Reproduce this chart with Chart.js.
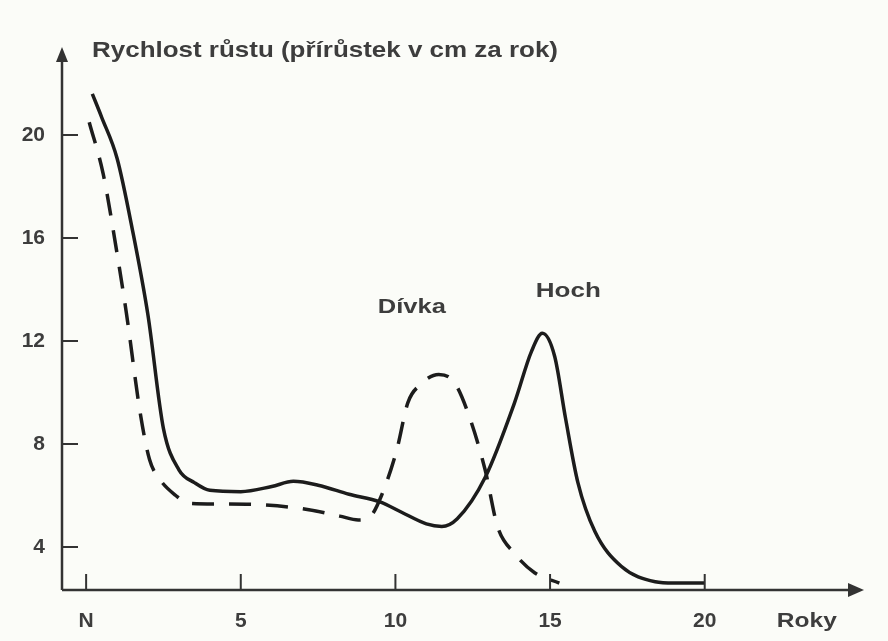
<!DOCTYPE html>
<html>
<head>
<meta charset="utf-8">
<script src="https://cdn.jsdelivr.net/npm/chart.js@4/dist/chart.umd.min.js"></script>
<style>
  html, body { margin: 0; padding: 0; background: #fbfcf8; }
  #wrap { width: 888px; height: 641px; }
</style>
</head>
<body>
<div id="wrap"><canvas id="growthChart"></canvas></div>
<script>
// growth velocity (cm / year)
const boyAges = [0.2, 0.5, 1.0, 1.5, 2.0, 2.5, 3.0, 3.5, 4.0, 5.0, 6.0, 6.7, 7.5, 8.5, 9.5, 10.2, 11.0, 11.5, 12.0, 12.9, 13.85, 14.4, 14.75, 15.15, 15.5, 15.9, 16.45, 17.3, 18.4, 19.0, 20.0];
const boyRate = [21.6, 20.7, 19.1, 16.3, 13.0, 8.6, 7.0, 6.5, 6.2, 6.15, 6.35, 6.55, 6.4, 6.05, 5.75, 5.35, 4.9, 4.8, 5.1, 6.7, 9.6, 11.6, 12.3, 11.4, 9.0, 6.5, 4.6, 3.25, 2.65, 2.6, 2.6];

const girlAges = [0.1, 0.55, 1.0, 1.3, 1.75, 2.05, 2.4, 2.9, 3.3, 4.3, 5.8, 7.2, 8.2, 8.8, 9.2, 9.55, 10.05, 10.4, 10.8, 11.4, 11.9, 12.35, 12.9, 13.3, 13.85, 14.5, 15.3];
const girlRate = [20.5, 18.5, 15.4, 13.1, 9.2, 7.4, 6.6, 6.0, 5.7, 5.67, 5.63, 5.45, 5.2, 5.05, 5.2, 6.0, 7.8, 9.6, 10.3, 10.7, 10.4, 9.2, 7.0, 4.8, 3.75, 3.0, 2.6];

const xTicks = [0, 5, 10, 15, 20];
const xTickLabels = ["N", "5", "10", "15", "20"];
const yTicks = [4, 8, 12, 16, 20];

const yTitle = "Rychlost růstu (přírůstek v cm za rok)";
const xTitle = "Roky";
const seriesNames = ["Hoch", "Dívka"];

const ink = "#1c1c1c";
const textColor = "#3d3d3d";
const fontFamily = '"Liberation Sans", Arial, sans-serif';

function toPoints(xs, ys) {
  return xs.map((x, i) => ({ x: x, y: ys[i] }));
}

// draws text squeezed/stretched to a given width (scanned lettering is wide)
function wideText(ctx, text, cx, cy, width, align) {
  const w = ctx.measureText(text).width;
  const k = width / w;
  ctx.save();
  ctx.translate(cx, cy);
  ctx.scale(k, 1);
  ctx.textAlign = align;
  ctx.fillText(text, 0, 0);
  ctx.restore();
}

const axesPlugin = {
  id: "axesPlugin",
  afterDraw(chart) {
    const ctx = chart.ctx;
    const area = chart.chartArea;
    const xs = chart.scales.x;
    const ys = chart.scales.y;
    ctx.save();

    // axis lines
    ctx.strokeStyle = "#333";
    ctx.fillStyle = "#333";
    ctx.lineWidth = 2.5;
    ctx.beginPath();
    ctx.moveTo(area.left, area.bottom);
    ctx.lineTo(area.left, area.top + 10);
    ctx.moveTo(area.left, area.bottom);
    ctx.lineTo(area.right - 10, area.bottom);
    ctx.stroke();

    // arrow heads
    ctx.beginPath();
    ctx.moveTo(area.left, area.top);
    ctx.lineTo(area.left - 6, area.top + 15);
    ctx.lineTo(area.left + 6, area.top + 15);
    ctx.closePath();
    ctx.fill();
    ctx.beginPath();
    ctx.moveTo(area.right, area.bottom);
    ctx.lineTo(area.right - 16, area.bottom - 7);
    ctx.lineTo(area.right - 16, area.bottom + 7);
    ctx.closePath();
    ctx.fill();

    // inward tick marks
    ctx.lineWidth = 2;
    ctx.beginPath();
    yTicks.forEach((v) => {
      const py = ys.getPixelForValue(v);
      ctx.moveTo(area.left, py);
      ctx.lineTo(area.left + 16, py);
    });
    xTicks.forEach((v) => {
      const px = xs.getPixelForValue(v);
      ctx.moveTo(px, area.bottom);
      ctx.lineTo(px, area.bottom - 16);
    });
    ctx.stroke();

    // texts
    ctx.fillStyle = textColor;
    ctx.textBaseline = "middle";
    ctx.font = "bold 22px " + fontFamily;
    wideText(ctx, yTitle, area.left + 30, area.top + 4, 466, "left");

    ctx.font = "bold 21px " + fontFamily;
    wideText(ctx, xTitle, xs.getPixelForValue(23.3), area.bottom + 31, 60, "center");
    wideText(ctx, seriesNames[0], xs.getPixelForValue(15.59), ys.getPixelForValue(13.94), 65, "center");
    wideText(ctx, seriesNames[1], xs.getPixelForValue(10.53), ys.getPixelForValue(13.32), 68, "center");
    ctx.restore();
  }
};

new Chart(document.getElementById("growthChart"), {
  type: "line",
  data: {
    datasets: [
      {
        label: seriesNames[0],
        data: toPoints(boyAges, boyRate),
        borderColor: ink,
        borderWidth: 3.5,
        pointRadius: 0,
        cubicInterpolationMode: "monotone",
        fill: false
      },
      {
        label: seriesNames[1],
        data: toPoints(girlAges, girlRate),
        borderColor: ink,
        borderWidth: 3.5,
        borderDash: [22, 15],
        pointRadius: 0,
        cubicInterpolationMode: "monotone",
        fill: false
      }
    ]
  },
  options: {
    responsive: true,
    maintainAspectRatio: false,
    animation: false,
    layout: { padding: { top: 47, right: 24, left: 0, bottom: 0 } },
    plugins: {
      legend: { display: false },
      tooltip: { enabled: false }
    },
    scales: {
      x: {
        type: "linear",
        min: -0.78,
        max: 25.15,
        afterBuildTicks: (scale) => {
          scale.ticks = xTicks.map((v) => ({ value: v }));
        },
        afterFit: (scale) => {
          scale.height = 51;
        },
        grid: { display: false, drawTicks: false },
        border: { display: false },
        ticks: {
          padding: 19,
          color: textColor,
          font: { family: fontFamily, size: 21, weight: "bold" },
          callback: (value) => xTickLabels[xTicks.indexOf(value)]
        }
      },
      y: {
        type: "linear",
        min: 2.33,
        max: 23.42,
        afterBuildTicks: (scale) => {
          scale.ticks = yTicks.map((v) => ({ value: v }));
        },
        afterFit: (scale) => {
          scale.width = 62;
        },
        grid: { display: false, drawTicks: false },
        border: { display: false },
        ticks: {
          padding: 17,
          color: textColor,
          font: { family: fontFamily, size: 21, weight: "bold" }
        }
      }
    }
  },
  plugins: [axesPlugin]
});
</script>
</body>
</html>
